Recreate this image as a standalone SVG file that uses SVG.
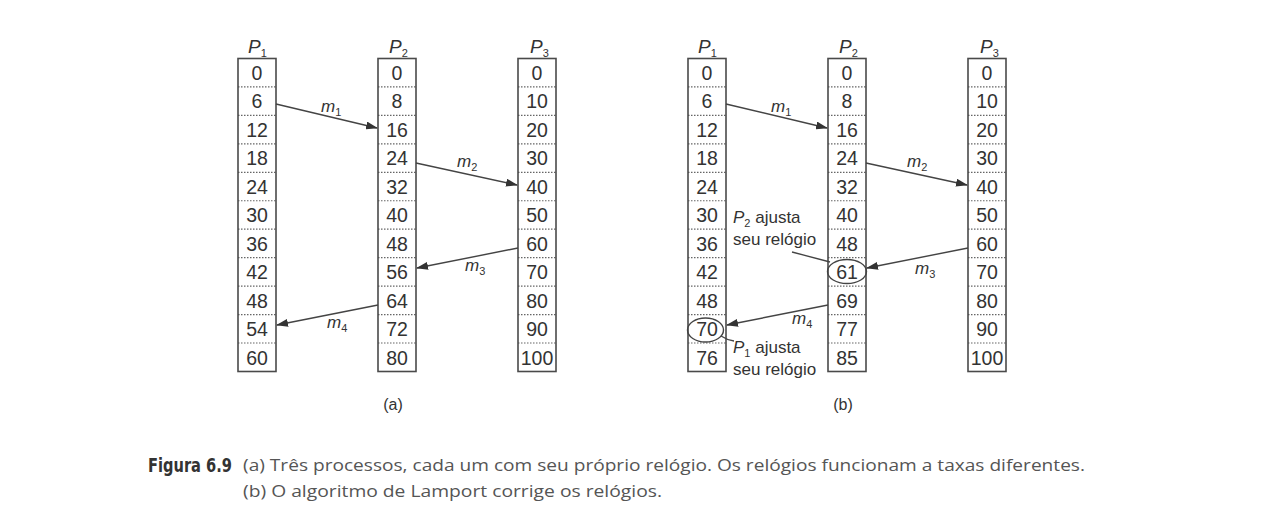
<svg xmlns="http://www.w3.org/2000/svg" width="1280" height="524" viewBox="0 0 1280 524">
<style>
.col{fill:none;stroke:#4a4a4a;stroke-width:1.6}
.sep{stroke:#666;stroke-width:1.2;stroke-dasharray:1.5 1.5}
.num{font-family:"Liberation Sans",Arial,sans-serif;font-size:19.5px;fill:#333;text-anchor:middle}
.plab{font-family:"Liberation Sans",Arial,sans-serif;font-size:19px;font-style:italic;fill:#333}
.mlab{font-family:"Liberation Sans",Arial,sans-serif;font-size:17px;font-style:italic;fill:#333}
.sub{font-size:11px;font-style:normal}
.msg{stroke:#444;stroke-width:1.4;fill:none;marker-end:url(#ah)}
.ann{font-family:"Liberation Sans",Arial,sans-serif;font-size:17px;fill:#333}
.pl{font-family:"Liberation Sans",Arial,sans-serif;font-size:16px;fill:#333;text-anchor:middle}
.cap{font-family:"Open Sans","Liberation Sans",sans-serif;font-size:15.5px;fill:#555}
</style>
<defs>
<marker id="ah" markerWidth="12" markerHeight="8" refX="11" refY="4" orient="auto" markerUnits="userSpaceOnUse">
<path d="M0,0 L12,4 L0,8 z" fill="#333"/>
</marker>
<g id="rows">
<line class="sep" x1="0" y1="86.95" x2="38" y2="86.95"/>
<line class="sep" x1="0" y1="115.4" x2="38" y2="115.4"/>
<line class="sep" x1="0" y1="143.85" x2="38" y2="143.85"/>
<line class="sep" x1="0" y1="172.3" x2="38" y2="172.3"/>
<line class="sep" x1="0" y1="200.75" x2="38" y2="200.75"/>
<line class="sep" x1="0" y1="229.2" x2="38" y2="229.2"/>
<line class="sep" x1="0" y1="257.65" x2="38" y2="257.65"/>
<line class="sep" x1="0" y1="286.1" x2="38" y2="286.1"/>
<line class="sep" x1="0" y1="314.55" x2="38" y2="314.55"/>
<line class="sep" x1="0" y1="343" x2="38" y2="343"/>
<rect class="col" x="0" y="58.5" width="38" height="313"/>
</g>
</defs>

<!-- (a) -->
<g id="a-P1">
<use href="#rows" x="238"/>
<text class="plab" x="248" y="53">P<tspan class="sub" dy="4">1</tspan></text>
<g class="num">
<text x="257" y="79.5">0</text><text x="257" y="108">6</text><text x="257" y="136.5">12</text><text x="257" y="165">18</text><text x="257" y="193.5">24</text><text x="257" y="222">30</text><text x="257" y="250.5">36</text><text x="257" y="279">42</text><text x="257" y="307.5">48</text><text x="257" y="336">54</text><text x="257" y="364.5">60</text>
</g>
</g>
<g id="a-P2">
<use href="#rows" x="378"/>
<text class="plab" x="389" y="53">P<tspan class="sub" dy="4">2</tspan></text>
<g class="num">
<text x="397" y="79.5">0</text><text x="397" y="108">8</text><text x="397" y="136.5">16</text><text x="397" y="165">24</text><text x="397" y="193.5">32</text><text x="397" y="222">40</text><text x="397" y="250.5">48</text><text x="397" y="279">56</text><text x="397" y="307.5">64</text><text x="397" y="336">72</text><text x="397" y="364.5">80</text>
</g>
</g>
<g id="a-P3">
<use href="#rows" x="518"/>
<text class="plab" x="530" y="53">P<tspan class="sub" dy="4">3</tspan></text>
<g class="num">
<text x="537" y="79.5">0</text><text x="537" y="108">10</text><text x="537" y="136.5">20</text><text x="537" y="165">30</text><text x="537" y="193.5">40</text><text x="537" y="222">50</text><text x="537" y="250.5">60</text><text x="537" y="279">70</text><text x="537" y="307.5">80</text><text x="537" y="336">90</text><text x="537" y="364.5">100</text>
</g>
</g>
<g id="a-connectors">
<line class="msg" x1="276" y1="104" x2="377" y2="128"/>
<line class="msg" x1="416" y1="163" x2="517" y2="185"/>
<line class="msg" x1="518" y1="248" x2="417" y2="268"/>
<line class="msg" x1="378" y1="305" x2="277" y2="325"/>
<text class="mlab" x="321" y="112">m<tspan class="sub" dy="4">1</tspan></text>
<text class="mlab" x="457" y="167">m<tspan class="sub" dy="4">2</tspan></text>
<text class="mlab" x="465" y="271">m<tspan class="sub" dy="4">3</tspan></text>
<text class="mlab" x="327" y="328">m<tspan class="sub" dy="4">4</tspan></text>
</g>
<text class="pl" x="393" y="410">(a)</text>

<!-- (b) -->
<g id="b-P1">
<use href="#rows" x="688"/>
<text class="plab" x="698" y="53">P<tspan class="sub" dy="4">1</tspan></text>
<g class="num">
<text x="707" y="79.5">0</text><text x="707" y="108">6</text><text x="707" y="136.5">12</text><text x="707" y="165">18</text><text x="707" y="193.5">24</text><text x="707" y="222">30</text><text x="707" y="250.5">36</text><text x="707" y="279">42</text><text x="707" y="307.5">48</text><text x="707" y="336">70</text><text x="707" y="364.5">76</text>
</g>
<ellipse cx="705.5" cy="330" rx="18" ry="12" fill="none" stroke="#444" stroke-width="1.4"/>
</g>
<g id="b-P2">
<use href="#rows" x="828"/>
<text class="plab" x="839" y="53">P<tspan class="sub" dy="4">2</tspan></text>
<g class="num">
<text x="847" y="79.5">0</text><text x="847" y="108">8</text><text x="847" y="136.5">16</text><text x="847" y="165">24</text><text x="847" y="193.5">32</text><text x="847" y="222">40</text><text x="847" y="250.5">48</text><text x="847" y="279">61</text><text x="847" y="307.5">69</text><text x="847" y="336">77</text><text x="847" y="364.5">85</text>
</g>
<ellipse cx="847" cy="271.5" rx="19.5" ry="12" fill="none" stroke="#444" stroke-width="1.4"/>
</g>
<g id="b-P3">
<use href="#rows" x="968"/>
<text class="plab" x="980" y="53">P<tspan class="sub" dy="4">3</tspan></text>
<g class="num">
<text x="987" y="79.5">0</text><text x="987" y="108">10</text><text x="987" y="136.5">20</text><text x="987" y="165">30</text><text x="987" y="193.5">40</text><text x="987" y="222">50</text><text x="987" y="250.5">60</text><text x="987" y="279">70</text><text x="987" y="307.5">80</text><text x="987" y="336">90</text><text x="987" y="364.5">100</text>
</g>
</g>
<g id="b-connectors">
<line class="msg" x1="726" y1="104" x2="827" y2="128"/>
<line class="msg" x1="866" y1="163" x2="967" y2="185"/>
<line class="msg" x1="968" y1="248" x2="867" y2="268"/>
<line class="msg" x1="828" y1="305" x2="727" y2="325"/>
<text class="mlab" x="771" y="112">m<tspan class="sub" dy="4">1</tspan></text>
<text class="mlab" x="907" y="167">m<tspan class="sub" dy="4">2</tspan></text>
<text class="mlab" x="915" y="274">m<tspan class="sub" dy="4">3</tspan></text>
<text class="mlab" x="792" y="324">m<tspan class="sub" dy="4">4</tspan></text>
<line x1="792" y1="252" x2="830" y2="262" stroke="#444" stroke-width="1.3"/>
<path d="M721,336 Q727,340 734,341" fill="none" stroke="#444" stroke-width="1.3"/>
</g>
<g id="b-notes">
<text class="ann" x="733" y="223"><tspan font-style="italic">P</tspan><tspan font-size="11" dy="4">2</tspan><tspan dy="-4"> ajusta</tspan></text>
<text class="ann" x="733" y="245">seu relógio</text>
<text class="ann" x="733" y="353"><tspan font-style="italic">P</tspan><tspan font-size="11" dy="4">1</tspan><tspan dy="-4"> ajusta</tspan></text>
<text class="ann" x="733" y="375">seu relógio</text>
</g>
<text class="pl" x="843" y="410">(b)</text>

<!-- caption -->
<g id="caption">
<text x="148" y="472" font-family="'DejaVu Sans Condensed','Liberation Sans',sans-serif" font-weight="bold" font-size="19" fill="#333" textLength="84" lengthAdjust="spacingAndGlyphs">Figura 6.9</text>
<text class="cap" x="243" y="471" textLength="842" lengthAdjust="spacingAndGlyphs">(a) Três processos, cada um com seu próprio relógio. Os relógios funcionam a taxas diferentes.</text>
<text class="cap" x="243" y="497" textLength="419" lengthAdjust="spacingAndGlyphs">(b) O algoritmo de Lamport corrige os relógios.</text>
</g>
</svg>
